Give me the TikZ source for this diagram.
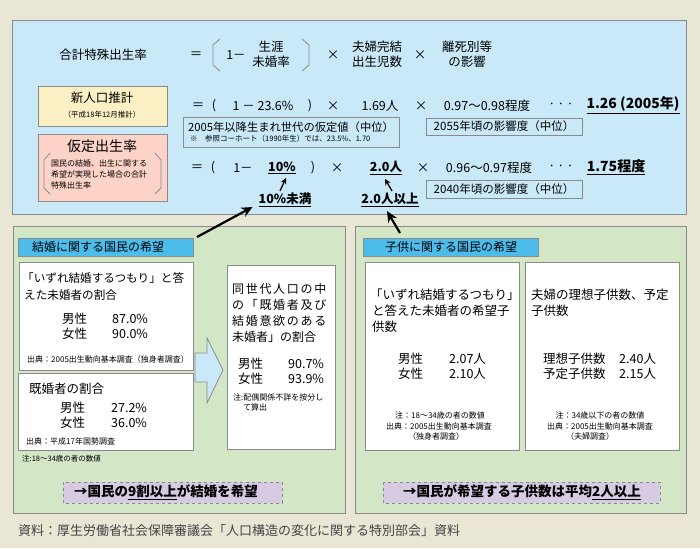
\documentclass[tikz,border=0pt]{standalone}
\usepackage{fontspec}
\setmainfont{Noto Sans CJK JP}
\usetikzlibrary{arrows.meta}
\definecolor{bgc}{HTML}{EAE6D6}
\definecolor{bluep}{HTML}{C9E9F9}
\definecolor{yell}{HTML}{FBEFC4}
\definecolor{pinkc}{HTML}{FCD3C6}
\definecolor{greenp}{HTML}{D3E7C7}
\definecolor{headb}{HTML}{4CBCEB}
\definecolor{purp}{HTML}{D7CBE3}
\definecolor{edge}{HTML}{8A8A8A}
\definecolor{capc}{HTML}{444444}
\tikzset{
  t/.style={font=\fontsize{12.5}{14}\selectfont, inner sep=0pt},
  m/.style={font=\fontsize{12}{14}\selectfont, inner sep=0pt},
  sm/.style={font=\fontsize{8}{9.5}\selectfont, inner sep=0pt},
  xs/.style={font=\fontsize{7.5}{9}\selectfont, inner sep=0pt},
  bt/.style={font=\bfseries\fontsize{12.5}{14}\selectfont, inner sep=0pt},
  bb/.style={font=\bfseries\fontsize{14}{16}\selectfont, inner sep=0pt},
  panel/.style={draw=edge, line width=0.8pt},
  wbox/.style={draw=edge, fill=white, line width=0.8pt},
  dbox/.style={draw=edge, fill=purp, dashed, line width=0.8pt},
  brk/.style={draw=edge, line width=0.8pt},
  bigarr/.style={line width=2.2pt, -{Stealth[length=11pt,width=10pt]}},
  smarr/.style={line width=1.3pt, -{Stealth[length=6pt,width=6pt]}},
}
\begin{document}
\begin{tikzpicture}[x=1pt,y=-1pt]
\useasboundingbox (0,0) rectangle (700,548);
\fill[bgc] (0,0) rectangle (700,548);
% top panel
\path[panel, fill=bluep] (12,20) rectangle (686,214);
\path[panel, fill=yell] (38,86) rectangle (167,126);
\path[panel, fill=pinkc] (38,134) rectangle (167,201);
\path[panel, fill=bluep] (183,117) rectangle (399,147);
\path[panel, fill=bluep] (426,118) rectangle (582,135);
\path[panel, fill=bluep] (426,180) rectangle (582,198);
% brackets
\draw[brk] (220,39) -- (213,45) -- (213,65) -- (220,71);
\draw[brk] (302,39) -- (309,45) -- (309,65) -- (302,71);
\draw[brk] (50,153) -- (44,160) -- (44,188) -- (50,194);
\draw[brk] (155,153) -- (161,160) -- (161,188) -- (155,194);
% row 1
\node[t] (tfr) at (103,55) {合計特殊出生率};
\node[t] (eq1) at (196,55) {＝};
\node[t] (one1) at (236,55) {1－};
\node[t] (sg) at (271,47) {生涯};
\node[t] (mk) at (271,62) {未婚率};
\node[t] (x1) at (333,55) {×};
\node[t] (fk1) at (377,47) {夫婦完結};
\node[t] (fk2) at (377,62) {出生児数};
\node[t] (x2) at (420,55) {×};
\node[t] (rs1) at (467,47) {離死別等};
\node[t] (rs2) at (467,62) {の影響};
% row 2
\node[t] (yl1) at (102,98) {新人口推計};
\node[xs] (yl2) at (102,115) {（平成18年12月推計）};
\node[t] (eq2) at (198,106) {＝};
\node[t] (lp2) at (214,106) {(};
\node[t] (v2a) at (263,106) {1 － 23.6\%};
\node[t] (rp2) at (310,106) {)};
\node[t] (x3) at (333,106) {×};
\node[t] (v2b) at (380,106) {1.69人};
\node[t] (x4) at (421,106) {×};
\node[t] (v2c) at (487,106) {0.97～0.98程度};
\node[t] (dots2) at (561,106) {·\,·\,·};
\node[bb] (r1) at (633,105) {\underline{1.26 (2005年)}};
\node[font=\fontsize{11.3}{13}\selectfont, inner sep=0pt] (b05a) at (291,127) {2005年以降生まれ世代の仮定値（中位）};
\node[xs, anchor=west] (b05b) at (190,139) {※\quad 参照コーホート（1990年生）では、23.5\%、1.70};
\node[font=\fontsize{11.5}{13}\selectfont, inner sep=0pt] (b55) at (504,126) {2055年頃の影響度（中位）};
% row 3
\node[font=\fontsize{14}{16}\selectfont, inner sep=0pt] (pk1) at (102,146) {仮定出生率};
\node[sm, anchor=west] (pk2) at (51,163) {国民の結婚、出生に関する};
\node[sm, anchor=west] (pk3) at (51,174) {希望が実現した場合の合計};
\node[sm, anchor=west] (pk4) at (51,185) {特殊出生率};
\node[t] (eq3) at (197,168) {＝};
\node[t] (lp3) at (213,168) {(};
\node[t] (one3) at (243,168) {1－};
\node[bt] (v3a) at (282,168) {\underline{10\%}};
\node[t] (rp3) at (313,168) {)};
\node[t] (x5) at (337,168) {×};
\node[bt] (v3b) at (386,168) {\underline{2.0人}};
\node[t] (x6) at (423,168) {×};
\node[t] (v3c) at (489,168) {0.96～0.97程度};
\node[t] (dots3) at (561,168) {·\,·\,·};
\node[bb] (r2) at (616,167) {\underline{1.75程度}};
\node[font=\fontsize{11.5}{13}\selectfont, inner sep=0pt] (b40) at (504,189) {2040年頃の影響度（中位）};
\node[bt] (lt10) at (285,200) {\underline{10\%未満}};
\node[bt] (ge2) at (390,200) {\underline{2.0人以上}};
\draw[smarr] ([xshift=-5pt,yshift=2pt]lt10.north) -- ([xshift=4pt,yshift=-4pt]v3a.south);
\draw[smarr] ([xshift=2pt,yshift=2pt]ge2.north) -- ([xshift=-1pt,yshift=-4pt]v3b.south);
% bottom panels
\path[panel, fill=greenp] (13,226) rectangle (345,513);
\path[panel, fill=greenp] (355,226) rectangle (686,513);
\path[panel, fill=headb] (18,238) rectangle (193,256);
\path[panel, fill=headb] (363,238) rectangle (538,256);
\path[wbox] (19,262) rectangle (193,370);
\path[wbox] (18,373) rectangle (193,450);
\path[wbox] (227,265) rectangle (335,449);
\path[wbox] (365,262) rectangle (519,450);
\path[wbox] (525,262) rectangle (679,450);
\path[dbox] (63,482) rectangle (282,503);
\path[dbox] (383,482) rectangle (660,503);
% block arrow
\path[draw=edge, fill=bluep, line width=0.8pt] (195,353) -- (207,353) -- (207,338) -- (223,370) -- (207,403) -- (207,382) -- (195,382) -- cycle;
% big arrows
\coordinate (a1t) at (197,237);
\coordinate (a2t) at (400,233);
\draw[bigarr] (a1t) -- ([xshift=-6pt,yshift=-7pt]lt10.west);
\draw[bigarr] (a2t) -- ([xshift=-3pt,yshift=-4pt]ge2.south);
% left panel texts
\node[m, anchor=west] (hL) at (32,247) {結婚に関する国民の希望};
\node[font=\fontsize{11.6}{13}\selectfont, inner sep=0pt, anchor=west] (w1a) at (22,278) {「いずれ結婚するつもり」と答};
\node[font=\fontsize{11.6}{13}\selectfont, inner sep=0pt, anchor=west] (w1b) at (24,295) {えた未婚者の割合};
\node[t, anchor=west] (m1) at (62,319) {男性};
\node[t, anchor=west] (m1v) at (112,319) {87.0\%};
\node[t, anchor=west] (f1) at (62,334) {女性};
\node[t, anchor=west] (f1v) at (112,334) {90.0\%};
\node[sm, anchor=west] (src1) at (27,359) {出典：2005出生動向基本調査（独身者調査）};
\node[t, anchor=west] (w2a) at (29,389) {既婚者の割合};
\node[t, anchor=west] (m2) at (60,408) {男性};
\node[t, anchor=west] (m2v) at (111,408) {27.2\%};
\node[t, anchor=west] (f2) at (60,423) {女性};
\node[t, anchor=west] (f2v) at (111,423) {36.0\%};
\node[sm, anchor=west] (src2) at (26,441) {出典：平成17年国勢調査};
\node[xs, anchor=west] (noteL) at (22,459) {注:18～34歳の者の数値};
\node[m, anchor=west] (w3a) at (232,289) {\addfontfeature{LetterSpace=14}同世代人口の中};
\node[m, anchor=west] (w3b) at (232,305) {\addfontfeature{LetterSpace=14}の「既婚者及び};
\node[m, anchor=west] (w3c) at (232,321) {\addfontfeature{LetterSpace=14}結婚意欲のある};
\node[m, anchor=west] (w3d) at (232,337) {未婚者」の割合};
\node[t, anchor=west] (m3) at (238,364) {男性};
\node[t, anchor=west] (m3v) at (288,364) {90.7\%};
\node[t, anchor=west] (f3) at (238,379) {女性};
\node[t, anchor=west] (f3v) at (288,379) {93.9\%};
\node[sm, anchor=west] (n3a) at (233,397) {注:配偶関係不詳を按分し};
\node[sm, anchor=west] (n3b) at (243,407) {て算出};
\node[font=\bfseries\fontsize{13.5}{15}\selectfont, inner sep=0pt] (dL) at (166,492) {→国民の\underline{9割以上}が結婚を希望};
% right panel texts
\node[m] (hR) at (451,247) {子供に関する国民の希望};
\node[t, anchor=west] (w4a) at (370,295) {「いずれ結婚するつもり」};
\node[t, anchor=west] (w4b) at (372,311) {と答えた未婚者の希望子};
\node[t, anchor=west] (w4c) at (372,327) {供数};
\node[t, anchor=west] (m4) at (398,359) {男性};
\node[t, anchor=west] (m4v) at (449,359) {2.07人};
\node[t, anchor=west] (f4) at (398,374) {女性};
\node[t, anchor=west] (f4v) at (449,374) {2.10人};
\node[sm] (n4a) at (440,415) {注：18～34歳の者の数値};
\node[sm] (n4b) at (439,426) {出典：2005出生動向基本調査};
\node[sm] (n4c) at (436,436) {（独身者調査）};
\node[t, anchor=west] (w5a) at (531,295) {夫婦の理想子供数、予定};
\node[t, anchor=west] (w5b) at (531,311) {子供数};
\node[t, anchor=west] (i5) at (543,359) {理想子供数};
\node[t, anchor=west] (i5v) at (619,359) {2.40人};
\node[t, anchor=west] (p5) at (543,374) {予定子供数};
\node[t, anchor=west] (p5v) at (619,374) {2.15人};
\node[sm] (n5a) at (600,415) {注：34歳以下の者の数値};
\node[sm] (n5b) at (600,426) {出典：2005出生動向基本調査};
\node[sm] (n5c) at (590,436) {（夫婦調査）};
\node[font=\bfseries\fontsize{13.5}{15}\selectfont, inner sep=0pt] (dR) at (522,492) {→国民が希望する子供数は平均\underline{2人以上}};
% caption
\node[font=\fontsize{13}{15}\selectfont, inner sep=0pt, anchor=west, text=capc] (cap) at (18,531) {資料：厚生労働省社会保障審議会「人口構造の変化に関する特別部会」資料};
\end{tikzpicture}
\end{document}
